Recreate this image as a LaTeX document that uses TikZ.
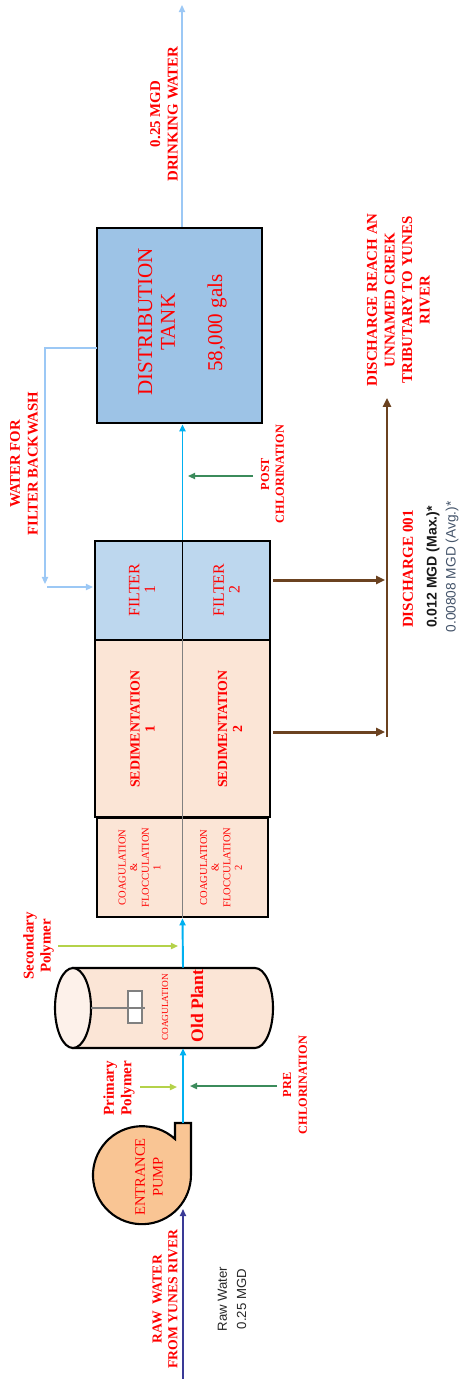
\documentclass[tikz,border=0pt]{standalone}
\usepackage{fontspec}
\setmainfont{Liberation Serif}
\newfontfamily\sansf{Liberation Sans}
\usetikzlibrary{arrows.meta}
\definecolor{txtred}{HTML}{FF0000}
\definecolor{peach}{HTML}{FBE5D6}
\definecolor{caplight}{HTML}{FDF1EA}
\definecolor{filterblue}{HTML}{BDD7EE}
\definecolor{tankblue}{HTML}{9DC3E6}
\definecolor{pumporange}{HTML}{F9C594}
\definecolor{flowcyan}{HTML}{00B0F0}
\definecolor{lightflow}{HTML}{9CC8F5}
\definecolor{dgreen}{HTML}{3B8B5B}
\definecolor{lgreen}{HTML}{B4D24A}
\definecolor{rawblue}{HTML}{3A3A96}
\definecolor{dbrown}{HTML}{6B4220}
\definecolor{avggray}{HTML}{44546A}
\begin{document}
\begin{tikzpicture}[x=0.02cm,y=-0.02cm,
  lbl/.style={text=txtred, rotate=90, align=center, inner sep=0pt},
  box/.style={draw=black, line width=1.6pt, inner sep=0pt},
  tip/.style={-{Triangle[length=4pt,width=3.5pt]}},
  flow/.style={draw=flowcyan, line width=1.1pt, tip},
  lflow/.style={draw=lightflow, line width=1.3pt, tip},
  chemd/.style={draw=dgreen, line width=1.2pt, tip},
  cheml/.style={draw=lgreen, line width=1.2pt, tip},
  brownline/.style={draw=dbrown, line width=1.7pt},
  brownarrow/.style={brownline, -{Triangle[length=5pt,width=4.5pt]}},
  outline/.style={draw=black, line width=1.2pt}]
\path[use as bounding box] (0,0) rectangle (462,1379);

% ---------- boxes ----------
\node[box, fill=tankblue, minimum width=3.3cm, minimum height=3.9cm] (tank) at (179.5,325.5) {};
\node[box, fill=filterblue, minimum width=3.5cm, minimum height=1.98cm] (filter) at (182.5,590.5) {};
\node[box, fill=peach, minimum width=3.5cm, minimum height=3.54cm] (sed) at (182.5,728.5) {};
\node[box, fill=peach, minimum width=3.42cm, minimum height=1.98cm] (coag) at (182.5,867.5) {};
\draw[black, line width=0.5pt] (filter.north) -- (filter.south);
\draw[gray, line width=0.7pt] (sed.north) -- (sed.south);
\draw[gray, line width=0.7pt] (coag.north) -- (coag.south);

% ---------- cylinder (old plant) ----------
\draw[outline, fill=peach] (73,968) -- (255,968)
  arc[start angle=90, end angle=-90, x radius=0.36cm, y radius=0.8cm] -- (73,1048) -- cycle;
\draw[outline, fill=caplight] (73,1008) ellipse [x radius=0.36cm, y radius=0.8cm];
\draw[gray, fill=white, line width=0.6pt] (128,991) rectangle (142,1023);
\draw[gray, line width=0.8pt] (91,1008) -- (145,1008);
\node[inner sep=0pt, minimum width=4.36cm, minimum height=1.6cm] (cyl) at (164,1008) {};

% ---------- pump ----------
\draw[outline, fill=pumporange] (191,1175) -- (191,1123) -- (175,1123) -- (175,1139)
  arc[start angle=47.6, end angle=360, radius=0.98cm] -- cycle;
\node[circle, inner sep=0pt, minimum size=1.96cm] (pump) at (142,1175) {};

% ---------- coordinates ----------
\coordinate (pumpout) at (183,1123);
\coordinate (rawsrc) at (183,1379);
\coordinate (pumpin) at (183,1209);
\coordinate (drinktop) at (182,5);
\coordinate (ppS) at (140,1087); \coordinate (ppE) at (177,1087);
\coordinate (pcS) at (277,1086); \coordinate (pcE) at (190,1086);
\coordinate (spS) at (58,946);   \coordinate (spE) at (178,946);
\coordinate (poS) at (253,476);  \coordinate (poE) at (188,476);
\coordinate (bwout) at (97,348); \coordinate (bwup) at (45,348);
\coordinate (bwdn) at (45,584);  \coordinate (bwst) at (47,587);
\coordinate (bwin) at (93,587);
\coordinate (d1s) at (273,580); \coordinate (d1e) at (385,580);
\coordinate (d2s) at (273,732); \coordinate (d2e) at (385,732);
\coordinate (dvs) at (387,737); \coordinate (dve) at (387,398);

% ---------- connectors ----------
\draw[draw=rawblue, line width=1.3pt, tip] (rawsrc) -- (pumpin);
\draw[flow] (pumpout) -- (pumpout |- cyl.south);
\draw[flow] (pumpout |- cyl.north) -- (coag.south);
\draw[flow] (filter.north) -- (filter.north |- tank.south);
\draw[lflow] (tank.north -| drinktop) -- (drinktop);
\draw[cheml] (ppS) -- (ppE);
\draw[chemd] (pcS) -- (pcE);
\draw[cheml] (spS) -- (spE);
\draw[chemd] (poS) -- (poE);
\draw[lflow] (bwout) -- (bwup) -- (bwdn);
\draw[lflow] (bwst) -- (bwin);
\draw[brownarrow] (d1s) -- (d1e);
\draw[brownarrow] (d2s) -- (d2e);
\draw[brownarrow] (dvs) -- (dve);

% ---------- labels ----------
\node[lbl, font=\bfseries\fontsize{8.5}{10}\selectfont] (drinklbl) at (164,114) {0.25 MGD\\DRINKING WATER};
\node[lbl, font=\bfseries\fontsize{8.5}{10}\selectfont] (reachlbl) at (398.5,300) {DISCHARGE REACH AN\\UNNAMED CREEK\\TRIBUTARY TO YUNES\\RIVER};
\node[lbl, font=\fontsize{12}{13}\selectfont] (tanklbl) at (156.5,322) {DISTRIBUTION\\TANK};
\node[lbl, font=\fontsize{12}{13}\selectfont] (tankvol) at (217,323) {58,000 gals};
\node[lbl, font=\bfseries\fontsize{8.4}{10}\selectfont] (bwlbl) at (24,464) {WATER FOR\\FILTER BACKWASH};
\node[lbl, font=\bfseries\fontsize{7}{8.5}\selectfont] (postlbl) at (272.5,474) {POST\\CHLORINATION};
\node[lbl, font=\fontsize{9}{9}\selectfont] (f1lbl) at (142,590) {FILTER\\1};
\node[lbl, font=\fontsize{9}{9}\selectfont] (f2lbl) at (226.5,590) {FILTER\\2};
\node[lbl, font=\bfseries\fontsize{7.9}{8.6}\selectfont] (s1lbl) at (142.5,729) {SEDIMENTATION\\1};
\node[lbl, font=\bfseries\fontsize{7.9}{8.6}\selectfont] (s2lbl) at (230,729) {SEDIMENTATION\\2};
\node[lbl, font=\fontsize{6}{6.6}\selectfont] (c1lbl) at (139.5,867.5) {COAGULATION\\\&\\FLOCCULATION\\1};
\node[lbl, font=\fontsize{6}{6.6}\selectfont] (c2lbl) at (221,867.5) {COAGULATION\\\&\\FLOCCULATION\\2};
\node[lbl, font=\fontsize{5.3}{6}\selectfont] (cyllbl) at (165,1007.5) {COAGULATION};
\node[lbl, font=\bfseries\fontsize{10}{11}\selectfont] (oldlbl) at (197,1006) {Old Plant};
\node[lbl, font=\bfseries\fontsize{8.5}{9.6}\selectfont] (seclbl) at (38.5,946) {Secondary\\Polymer};
\node[lbl, font=\bfseries\fontsize{8.6}{10}\selectfont] (primlbl) at (119,1088) {Primary\\Polymer};
\node[lbl, font=\bfseries\fontsize{7}{9}\selectfont] (prelbl) at (295,1085) {PRE\\CHLORINATION};
\node[lbl, font=\fontsize{8.3}{10}\selectfont] (pumplbl) at (149,1177) {ENTRANCE\\PUMP};
\node[lbl, font=\bfseries\fontsize{7.8}{9}\selectfont] (rawlbl) at (165,1299) {RAW~~WATER\\FROM YUNES RIVER};
\node[lbl, text=black!85, font=\sansf\fontsize{7.5}{11}\selectfont] (rawflow) at (232,1299) {Raw Water\\0.25 MGD};
\node[lbl, font=\bfseries\fontsize{8.6}{10}\selectfont] (d001) at (408,569) {DISCHARGE 001};
\node[lbl, text=black!90, font=\sansf\bfseries\fontsize{8}{9}\selectfont] (dmax) at (433,567) {0.012 MGD (Max.)*};
\node[lbl, text=avggray, font=\sansf\fontsize{7.8}{9}\selectfont] (davg) at (452,567) {0.00808 MGD (Avg.)*};
\end{tikzpicture}
\end{document}
